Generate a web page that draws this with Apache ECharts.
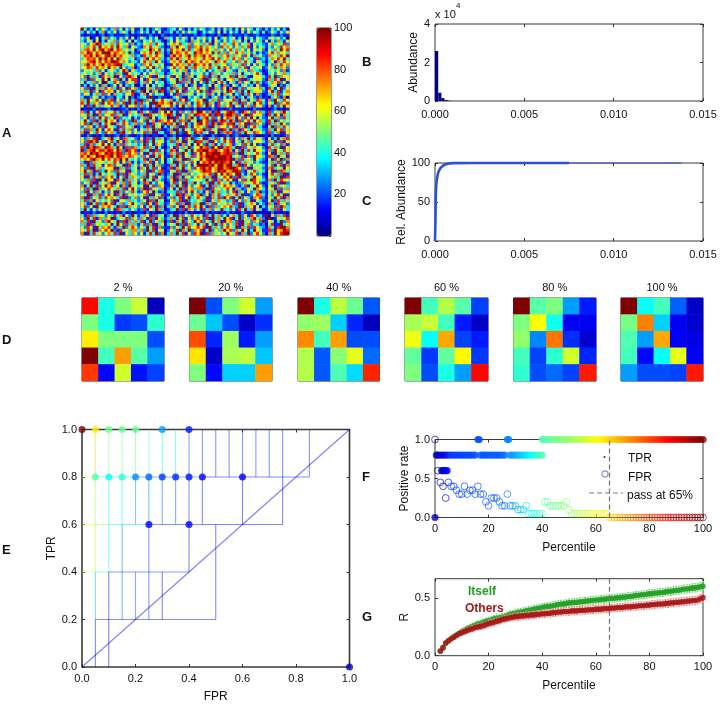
<!DOCTYPE html>
<html><head><meta charset="utf-8">
<style>html,body{margin:0;padding:0;background:#fff}#main{width:720px;height:705px;filter:blur(0.6px)}</style>
<script src="https://cdn.jsdelivr.net/npm/echarts@6/dist/echarts.min.js"></script>
</head><body><div id="main"></div>
<script>
// ---- Panel A: similarity matrix, read by eye at reduced resolution (one digit per cell)
const heatLevels=[8,16,26,36,45,55,65,75,85,97];
const heatRows=[
"2413052631 3725142611 4130253102 3415203142 5312403152 3041625314 2031425130",
"3152403714 2513630412 5240316122 4031526340 1425316041 5230416253 1402531426",
"1021101201 2010120101 1012010210 1102011020 1201102101 2011021012 0110210201",
"4263150472 5314261502 6314250173 4152630415 3624150362 4513062415 3214635240",
"3154260315 4726315042 1536243102 5163420736 2514063152 4736140526 3150427316",
"5426758364 7385462713 2647385403 6758347265 3748162574 3862547163 4215736482",
"6375849675 8496371542 1758463201 7495638276 8475362847 5263748152 5314263857",
"4786958768 9587463602 3649758413 8576948367 9586473625 8473625164 6205374968",
"7698586979 6875749311 6758497302 9687586497 8675948372 6485736241 3126847563",
"5879697588 7968654723 1847586401 7968579486 7958463758 3746285173 5217463859",
"3687859796 8597463512 4796857313 8597468576 4867958367 4857263418 2314758694",
"6578968587 9486752431 5847396202 6758496875 8576497584 3627485316 4203617485",
"4796857968 7859346613 2758463501 9586748397 6859473652 7463825162 6315274857",
"5687486759 6748523702 6485937413 5847693785 4768359486 2537481635 5126384762",
"2546372514 6325471632 3142635210 4526371425 3614253716 4215362743 2014536271",
"4635247163 5274186353 1526473302 3645172634 5241736254 3726145368 4103526473",
"6293741857 4916283750 7358194624 8163927405 6829371546 8294731065 6318492756",
"3718264950 5729416381 5186372913 6493827154 7192648305 6738192456 5207384916",
"5143726094 3862175411 4726153402 4618273951 6293715840 5317264938 3124758261",
"1304251730 2516032401 3160425301 2743150261 1425063172 0631452306 2013650214",
"6281947385 7392618572 6947382913 9274816358 4629173850 7193826465 7308415926",
"4739261857 6158374923 8261749802 7495183626 9381746259 8527149366 5216938147",
"2651473826 1734265801 4716253401 5182736415 3628415073 6142938517 2013748256",
"3012641312 2043150202 3416102110 1362104253 1520362141 3712403521 2010362170",
"7396485927 8162749381 9274836854 7138692457 6914738265 5829471638 7417296385",
"8493762958 6274819392 8361947867 9583726148 6297418536 9471826395 8316492758",
"6182947365 8471395672 7249381656 8316947258 7492618375 8163947285 6207138496",
"0110201012 1001120102 0110102010 2110011020 1010210101 2010110021 1000120101",
"7294168375 5839217461 8362917586 9417263859 9627189468 9831976285 7318264795",
"6483917256 8274916353 7198463675 8391627498 7869298179 9782691856 6208396174",
"3617249583 6182435031 4729513640 5183627941 3794825168 7396284951 4215937284",
"5942817396 7613842983 6294718768 5138729460 9682917983 9718268496 7318492635",
"6829371485 9174862372 7391846297 8472693158 9682971868 8937691827 5208374962",
"2476138295 5318264701 3182946031 4726183957 6381947562 5817392684 3104927385",
"4827396158 6193847251 6374928102 7193846285 7928461983 9271863946 4217395826",
"7196384285 7318946263 5827193411 7492186397 8361949278 7128396487 6318247196",
"1021010201 0120121001 2010110020 1201001210 2100210012 0121001210 0010201012",
"5274891367 9361874521 6182937402 7395184623 6917382594 8162749385 5206139478",
"6289794815 8396174272 7183946513 8274916358 8371962485 8163947256 6317492816",
"3817246959 4172836342 4925176203 4381726059 6293714835 7136284951 2014836271",
"8297987498 7396182873 5827394102 6183749256 9782969178 7391826475 5208473916",
"9278968879 8697298681 7349182613 8716394958 8997897689 7162938496 6317296485",
"7869897698 9798278572 6193847402 7482963185 9698999789 8271936458 4206194738",
"8697698978 9698768763 7261948511 8397164826 8799989998 9463817296 6318729461",
"6758976968 5879694352 4817392603 5274918365 9689899998 9172846395 3205184927",
"3192746536 4851627141 3748162503 4917263850 6879798987 9518374624 2104738261",
"7392846168 7264918362 6183947211 7394826159 9998968979 9379185264 5316294817",
"5281947365 6917382451 7493826102 8174936285 8979679878 9986271946 4217836495",
"6947182395 7284619362 6391847811 6482917365 7988579896 7998216483 6306192874",
"4827139536 4392817542 3716429202 4918372635 5768295968 7599314862 3105847291",
"6193847275 8416293763 7294816313 7183946257 6837194586 9281746396 5206473918",
"5372819496 6184927362 5936174202 6917283465 5394817268 5716284986 4317294865",
"2648193647 1963728451 3871426501 4826193715 2471938635 1382746586 2014638192",
"7149382696 8361729463 6194827511 7394816256 8149273686 7629381459 6205817463",
"6283917468 5473816952 7918463702 6149285737 7291846368 5173926497 5316492837",
"3816274142 5917263841 2684931203 4382716952 3162947342 5817436237 1204739165",
"5491738268 5183926463 5729164811 6398174257 9261748357 4683917268 7315268491",
"7192648385 7638192472 6193748203 7248169358 5391748296 8149263576 8206394817",
"4827163536 2915637342 3618294501 5738192436 4291637542 3816274935 3115928374",
"6319482796 8147236953 7296184312 6482719374 9173826457 4829136758 4207318462",
"5826194768 5392817462 6148392703 7261948386 9418273675 8329174695 6316482973",
"3941526142 6187342531 2816497301 3492817625 1837264934 2618493716 3014728163",
"0110201020 1010201001 1020100120 1001020100 1020110102 0100210100 0010201010",
"4182736526 3847162941 3761824502 4917263853 6183947241 5739261862 3194627381",
"6294817375 9136482752 7418296313 7394816268 5281937496 8149263794 7209316458",
"7381946279 6492817373 8149263702 8174926396 8263947196 7381946276 2916483927",
"3718264536 1496283731 4827193603 5492817361 4716293852 6381947243 1204816935",
"5286194768 4173926862 6394817211 7263948568 5819374268 5491738286 3207418697",
"6483917586 9218463773 7294816502 6381749275 8149263795 8274961396 4118296798",
"7193846257 4829163752 6148392703 7394816286 9182746359 6481739268 5207396899"];
const heatDiagonal="9110099999 9999999880 0019999999 9999999999 9999999999 9911111111 0000001999";
const colorbarTicks=[20,40,60,80,100];

// ---- Panel B
const abundanceBins=[0.00009,0.00027,0.00044,0.00062,0.0008];
const abundanceCounts=[26000,4300,1500,500,150];
// ---- Panel C
const relX=[0,0.00002,0.00004,0.00005,0.00007,0.0001,0.00015,0.0002,0.0003,0.0004,0.0005,0.0007,0.001,0.002,0.0075];
const relY=[0,20,50,62,72,78,85,89,93.5,96,97.5,99,99.8,100,100];
const relTailX=[0.0075,0.0138];
const relTailY=[100,100];

// ---- Panel D
const stageLabels=["2 %","20 %","40 %","60 %","80 %","100 %"];
const stage2=[[87,40,50,57,6],[50,40,18,20,42],[64,50,50,50,20],[100,44,72,46,28],[82,13,58,14,19]];
const stage20=[[100,20,50,58,28],[48,32,20,7,17],[80,16,53,15,28],[65,7,54,56,32],[50,13,33,33,72]];
const stage40=[[100,40,56,48,21],[52,53,33,16,6],[74,44,72,20,20],[55,21,51,60,23],[55,21,45,34,84]];
const stage60=[[100,44,55,46,19],[54,57,44,15,7],[61,38,71,19,15],[47,18,47,63,18],[50,20,40,28,87]];
const stage80=[[100,46,50,28,15],[50,62,39,11,11],[52,26,76,17,8],[44,19,42,58,16],[42,20,23,19,85]];
const stage100=[[100,38,44,22,7],[49,75,33,11,8],[45,28,71,12,10],[44,13,38,60,12],[28,20,20,19,85]];

// ---- Panel E: [x1, y1, colour value, x2, y2]
const rocUpper=[[.05,.8,66,.05,1],[.1,.8,50,.1,1],[.15,.8,49,.15,1],[.2,.8,48,.2,1],[.25,.8,45,.25,1],[.3,.8,40,.3,1],[.35,.8,38,.35,1],[.4,.8,20,.4,1],[.45,.8,18,.45,1],[.5,.8,18,.5,1],[.55,.8,18,.55,1],[.6,.8,18,.6,1],[.65,.8,18,.65,1],[.7,.8,18,.7,1],[.75,.8,18,.75,1],[.85,.8,18,.85,1],
[0,.8,60,.05,.8],[.05,.8,45,.1,.8],[.1,.8,40,.15,.8],[.15,.8,38,.2,.8],[.2,.8,25,.45,.8],[.45,.8,15,.85,.8]];
const rocMiddle=[[.05,.6,55,.05,.8],[.1,.6,40,.1,.8],[.15,.6,38,.15,.8],[.2,.6,28,.2,.8],[.25,.6,24,.25,.8],[.3,.6,22,.3,.8],[.35,.6,22,.35,.8],[.4,.6,18,.4,.8],[.45,.6,16,.45,.8],[.6,.6,14,.6,.8],[.75,.6,14,.75,.8],
[0,.6,62,.05,.6],[.05,.6,55,.1,.6],[.1,.6,40,.15,.6],[.15,.6,33,.25,.6],[.25,.6,18,.45,.6],[.45,.6,14,.75,.6],
[.05,.4,58,.05,.6],[.1,.4,40,.1,.6],[.15,.4,25,.15,.6],[.25,.4,18,.25,.6],[.4,.4,14,.4,.6],[.5,.2,14,.5,.6]];
const rocLower=[[0,.4,60,.05,.4],[.05,.4,45,.1,.4],[.1,.4,18,.4,.4],
[.05,.2,30,.05,.4],[.1,.2,14,.1,.4],[.15,.2,22,.15,.4],[.2,.2,22,.2,.4],[.25,.2,18,.25,.4],[.3,.2,14,.3,.4],
[.05,.2,16,.5,.2],[.05,0,14,.05,.2],[.1,0,10,.1,.2],[0,0,12,1,1]];
const rocPoints=[[0,1,100],[.05,1,64],[.1,1,48],[.15,1,48],[.2,1,48],[.3,1,28],[.4,1,16],
[.05,.8,45],[.1,.8,38],[.15,.8,42],[.2,.8,26],[.25,.8,22],[.3,.8,18],[.35,.8,16],[.4,.8,14],[.45,.8,13],[.6,.8,11],
[.25,.6,12],[.4,.6,12],[1,0,6]];

// ---- Panel F
const percentiles=[0,1,2,3,4,5,6,7,8,9,10,11,12,13,14,15,16,17,18,19,20,21,22,23,24,25,26,27,28,29,30,31,32,33,34,35,36,37,38,39,40,41,42,43,44,45,46,47,48,49,50,51,52,53,54,55,56,57,58,59,60,61,62,63,64,65,66,67,68,69,70,71,72,73,74,75,76,77,78,79,80,81,82,83,84,85,86,87,88,89,90,91,92,93,94,95,96,97,98,99,100];
const tprRate=[0,.8,.8,.8,.8,.8,.8,.8,.8,.8,.8,.8,.8,.8,.8,.8,1,.8,.8,.8,.8,.8,.8,.8,.8,.8,.8,1,.8,.8,.8,.8,.8,.8,.8,.8,.8,.8,.8,.8,.8,1,1,1,1,1,1,1,1,1,1,1,1,1,1,1,1,1,1,1,1,1,1,1,1,1,1,1,1,1,1,1,1,1,1,1,1,1,1,1,1,1,1,1,1,1,1,1,1,1,1,1,1,1,1,1,1,1,1,1,1];
const tprExtraPct=[.5,2.5,3,3.5,4,4.5,40,16.5,27.5];
const tprExtraRate=[.8,.6,.6,.6,.6,.6,1,1,1];
const fprRate=[1,.6,.45,.4,.25,.45,.4,.4,.35,.3,.3,.4,.3,.35,.35,.3,.4,.3,.3,.2,.15,.25,.25,.25,.2,.15,.15,.3,.15,.15,.15,.1,.1,.1,.15,.05,.05,.05,.05,.05,.05,.2,.2,.15,.15,.15,.15,.15,.15,.2,.1,.05,.05,.05,.05,.05,.05,.05,.05,.05,.05,.05,.05,.05,.05,0,0,0,0,0,0,0,0,0,0,0,0,0,0,0,0,0,0,0,0,0,0,0,0,0,0,0,0,0,0,0,0,0,0,0,0];
const passPercentile=65;
// colour value seen at a percentile in panel F
const shadeAtPct=[0,3,6,25,30,35,40,50,65,100];
const shadeValue=[6,8,18,22,29,36,45,52,66,100];

// ---- Panel G (percentiles 2..100)
const rPercentiles=percentiles.slice(2);
const rItself=[.04,.07,.11,.13,.15,.165,.18,.195,.21,.22,.235,.245,.255,.265,.275,.28,.29,.3,.305,.31,.32,.325,.33,.335,.34,.35,.36,.365,.37,.375,.38,.385,.39,.395,.4,.405,.41,.415,.42,.425,.43,.43,.435,.44,.445,.45,.45,.455,.46,.46,.465,.465,.47,.47,.475,.475,.48,.48,.485,.485,.49,.49,.495,.495,.5,.5,.505,.505,.51,.51,.515,.515,.52,.525,.525,.53,.53,.535,.54,.54,.545,.545,.55,.55,.555,.56,.56,.565,.57,.57,.575,.58,.58,.585,.59,.59,.595,.6,.605];
const rOthers=[.04,.07,.11,.13,.145,.16,.175,.19,.2,.21,.22,.23,.235,.245,.25,.255,.26,.27,.28,.285,.29,.3,.305,.315,.32,.325,.33,.335,.34,.34,.345,.345,.35,.35,.355,.355,.36,.36,.365,.365,.37,.37,.375,.375,.38,.38,.385,.385,.385,.39,.39,.39,.395,.395,.395,.4,.4,.4,.405,.405,.405,.41,.41,.41,.415,.415,.42,.42,.42,.425,.425,.425,.43,.43,.435,.435,.435,.44,.44,.445,.445,.45,.45,.45,.455,.455,.46,.46,.465,.465,.47,.47,.475,.475,.48,.48,.485,.495,.505];
const spreadByDecile=[.01,.028,.03,.032,.033,.034,.034,.034,.035,.036,.04];

// ---- layout
const FONT='"Liberation Sans",Arial,sans-serif', INK='#111';
const jet=['#00007f','#0000ff','#007fff','#00ffff','#7fff7f','#ffff00','#ff7f00','#ff0000','#7f0000'];
const grids=[], xAxes=[], yAxes=[], series=[], mapped=[];
function addGrid(l,t,r,b,bw){grids.push({left:l,top:t,width:r-l,height:b-t,show:true,borderColor:'#3a3a3a',borderWidth:bw||1,backgroundColor:'transparent'});return grids.length-1;}
function valueAxis(grid,cfg,dir,mirror){
  const c={type:'value',gridIndex:grid,min:cfg.min,max:cfg.max,interval:cfg.interval,scale:false,
    splitLine:{show:false},axisLine:{show:false,onZero:false},
    axisTick:{show:true,inside:true,length:3,lineStyle:{color:'#333',width:1}},
    position:dir==='x'?(mirror?'top':'bottom'):(mirror?'right':'left'),
    axisLabel:{show:!mirror,formatter:cfg.fmt,fontFamily:FONT,fontSize:11,color:INK,margin:cfg.margin||5,showMaxLabel:cfg.showMax!==false},
  };
  if(!mirror&&cfg.name){Object.assign(c,{name:cfg.name,nameLocation:'middle',nameGap:cfg.gap,nameTextStyle:{fontFamily:FONT,fontSize:12,color:INK}});}
  return c;
}
function addBoxAxes(grid,xc,yc){
  const xi=xAxes.length, yi=yAxes.length;
  xAxes.push(valueAxis(grid,xc,'x',false),valueAxis(grid,xc,'x',true));
  yAxes.push(valueAxis(grid,yc,'y',false),valueAxis(grid,yc,'y',true));
  return [xi,yi];
}
function addHeat(rect,matrix){
  const g=addGrid(...rect);
  const cats=matrix.map((_,i)=>i);
  const xi=xAxes.length, yi=yAxes.length;
  xAxes.push({type:'category',gridIndex:g,data:cats,show:false});
  yAxes.push({type:'category',gridIndex:g,data:cats,show:false,inverse:true});
  const d=[];matrix.forEach((row,r)=>row.forEach((v,c)=>d.push([c,r,v])));
  mapped.push(series.length);
  series.push({type:'heatmap',xAxisIndex:xi,yAxisIndex:yi,data:d,progressive:0,silent:true,z:1});
}
function shadeOf(p){
  for(let i=1;i<shadeAtPct.length;i++){ if(p<=shadeAtPct[i]){const t=(p-shadeAtPct[i-1])/(shadeAtPct[i]-shadeAtPct[i-1]);return shadeValue[i-1]+t*(shadeValue[i]-shadeValue[i-1]);} }
  return 100;
}
const cleanDiag=heatDiagonal.replace(/ /g,'');
const mainMatrix=heatRows.map((row,r)=>row.replace(/ /g,'').split('').map((ch,c)=>heatLevels[+(r===c?cleanDiag[c]:ch)]));
addHeat([81,28,289,235],mainMatrix);

// colour bar axis
const cbG=addGrid(317,28,331,236);
{ xAxes.push({type:'value',gridIndex:cbG,min:0,max:1,show:false});
  yAxes.push({type:'value',gridIndex:cbG,min:0,max:100,interval:20,position:'right',splitLine:{show:false},axisLine:{show:false,onZero:false},
    axisTick:{show:true,inside:true,length:2,lineStyle:{color:'#333'}},
    axisLabel:{fontFamily:FONT,fontSize:11,color:INK,margin:3,padding:[6,0,0,0],formatter:v=>colorbarTicks.includes(v)?String(v):''}});
}
// B
const toFix3=v=>v.toFixed(3), toFix1=v=>v.toFixed(1);
const xCfg015={min:0,max:.015,interval:.005,fmt:toFix3,margin:8};
{ const g=addGrid(435,24,703,101);
  const [x,y]=addBoxAxes(g,xCfg015,{min:0,max:40000,interval:20000,fmt:v=>String(v/10000),name:'Abundance',gap:14});
  series.push({type:'bar',xAxisIndex:x,yAxisIndex:y,barWidth:3.2,itemStyle:{color:'#00008f'},data:abundanceBins.map((b,i)=>[b,abundanceCounts[i]]),silent:true});
}
// C
{ const g=addGrid(435,163,703,241);
  const [x,y]=addBoxAxes(g,xCfg015,{min:0,max:100,interval:50,fmt:v=>String(v),name:'Rel. Abundance',gap:24});
  series.push({type:'line',xAxisIndex:x,yAxisIndex:y,showSymbol:false,clip:false,lineStyle:{color:'#2a50dc',width:2.6},data:relX.map((v,i)=>[v,relY[i]]),silent:true});
  series.push({type:'line',xAxisIndex:x,yAxisIndex:y,showSymbol:false,clip:false,lineStyle:{color:'#2a50dc',width:1},data:relTailX.map((v,i)=>[v,relTailY[i]]),silent:true});
}
// D
const stageMatrices=[stage2,stage20,stage40,stage60,stage80,stage100];
const stageRects=[[82,298,164,381],[189.5,298,272,381],[298,298,379.5,381],[405,298,488,381],[513.5,298,596,381],[621,298,703,381]];
stageMatrices.forEach((m,i)=>addHeat(stageRects[i],m));
// E
{ const g=addGrid(82,429.5,349.5,667,1.6);
  const tick={min:0,max:1,interval:.2,fmt:toFix1,margin:6};
  const [x,y]=addBoxAxes(g,{...tick,name:'FPR',gap:24},{...tick,margin:5,name:'TPR',gap:22});
  mapped.push(series.length);
  series.push({type:'custom',xAxisIndex:x,yAxisIndex:y,silent:true,clip:false,
    data:[...rocUpper,...rocMiddle,...rocLower],
    encode:{x:[0,3],y:[1,4]},
    renderItem:(p,api)=>{const a=api.coord([api.value(0),api.value(1)]),b=api.coord([api.value(3),api.value(4)]);
      return {type:'line',shape:{x1:a[0],y1:a[1],x2:b[0],y2:b[1]},style:{stroke:api.visual('color'),lineWidth:1.1,opacity:.5}};}});
  mapped.push(series.length);
  series.push({type:'scatter',xAxisIndex:x,yAxisIndex:y,symbolSize:7,clip:false,silent:true,data:rocPoints,z:5});
}
// F
{ const g=addGrid(435,439.5,703,517.5);
  const [x,y]=addBoxAxes(g,{min:0,max:100,interval:20,fmt:v=>String(v),name:'Percentile',gap:24,margin:6},{min:0,max:1,interval:.5,fmt:toFix1,name:'Positive rate',gap:22});
  mapped.push(series.length);
  series.push({type:'custom',xAxisIndex:x,yAxisIndex:y,silent:true,clip:false,
    data:percentiles.map((p,i)=>[p,fprRate[i],shadeOf(p)]),
    renderItem:(pr,api)=>{const a=api.coord([api.value(0),api.value(1)]);
      return {type:'circle',shape:{cx:a[0],cy:a[1],r:3.4},style:{stroke:api.visual('color'),fill:'none',lineWidth:.8,opacity:.85}};}});
  mapped.push(series.length);
  const tpr=percentiles.map((p,i)=>[p,tprRate[i],shadeOf(p)]).concat(tprExtraPct.map((p,i)=>[p,tprExtraRate[i],shadeOf(p)]));
  series.push({type:'scatter',xAxisIndex:x,yAxisIndex:y,symbolSize:7.2,clip:false,silent:true,data:tpr,z:4,
    markLine:{silent:true,symbol:'none',label:{show:false},lineStyle:{color:'#7a7a7a',type:[5,3],width:1.3},data:[{xAxis:passPercentile}]}});
}
// G
{ const g=addGrid(435,578.7,703,655.7);
  const [x,y]=addBoxAxes(g,{min:0,max:100,interval:20,fmt:v=>String(v),name:'Percentile',gap:24,margin:6},{min:0,max:.67,interval:.5,fmt:toFix1,showMax:false,name:'R',gap:22});
  const errSeries=(vals,color,z)=>({type:'custom',xAxisIndex:x,yAxisIndex:y,silent:true,z,clip:false,
    data:rPercentiles.map((p,i)=>{const s=spreadByDecile[Math.floor(p/10)];return [p,vals[i]-s,vals[i]+s];}),
    encode:{x:0,y:[1,2]},
    renderItem:(pr,api)=>{const a=api.coord([api.value(0),api.value(1)]),b=api.coord([api.value(0),api.value(2)]);
      const st={stroke:color,lineWidth:1};
      return {type:'group',children:[
        {type:'line',shape:{x1:a[0],y1:a[1],x2:b[0],y2:b[1]},style:st},
        {type:'line',shape:{x1:a[0]-1,y1:a[1],x2:a[0]+1,y2:a[1]},style:st},
        {type:'line',shape:{x1:b[0]-1,y1:b[1],x2:b[0]+1,y2:b[1]},style:st}]};}});
  const pts=(vals,color,z)=>({type:'scatter',xAxisIndex:x,yAxisIndex:y,symbolSize:5.6,silent:true,z,clip:false,itemStyle:{color},data:rPercentiles.map((p,i)=>[p,vals[i]])});
  series.push(errSeries(rItself,'#80d880',2),pts(rItself,'#1e9e1e',3),errSeries(rOthers,'#f09090',4),pts(rOthers,'#a81212',5));
  series.push({type:'line',xAxisIndex:x,yAxisIndex:y,showSymbol:false,silent:true,data:[],
    markLine:{silent:true,symbol:'none',label:{show:false},lineStyle:{color:'#7a7a7a',type:[5,3],width:1.3},data:[{xAxis:passPercentile}]},z:6});
}
// free text
const txt=(s,x,y,o={})=>({type:'text',x,y,silent:true,z:50,style:Object.assign({text:s,fontFamily:FONT,fontSize:12,fill:INK,verticalAlign:'middle'},o)});
const panelLetters=[['A',2,133],['B',362,62],['C',362,201],['D',2,340],['E',2,550],['F',362,477],['G',362,617]];
const graphic=[
  ...panelLetters.map(p=>txt(p[0],p[1],p[2],{fontSize:13,fontWeight:'bold'})),
  txt('x 10',435,15,{fontSize:11}),txt('4',456,6,{fontSize:8}),
  ...stageLabels.map((s,i)=>txt(s,(stageRects[i][0]+stageRects[i][2])/2,288,{align:'center',fontSize:11})),
  txt('TPR',628,459),txt('FPR',628,478),txt('pass at 65%',627,496),
  {type:'circle',silent:true,z:50,shape:{cx:604.5,cy:457,r:1},style:{fill:'#1a2ea0'}},
  {type:'circle',silent:true,z:50,shape:{cx:605,cy:474,r:3.2},style:{stroke:'#3a50d0',fill:'none',lineWidth:.8}},
  {type:'line',silent:true,z:50,shape:{x1:589,y1:493,x2:623,y2:493},style:{stroke:'#7a7a7a',lineWidth:1.2,lineDash:[5,3]}},
  txt('Itself',468,592,{fontSize:12,fontWeight:'bold',fill:'#22a022'}),
  txt('Others',465,609,{fontSize:12,fontWeight:'bold',fill:'#a81818'})
];
const chart=echarts.init(document.getElementById('main'),null,{renderer:'canvas'});
chart.setOption({animation:false,backgroundColor:'#fff',grid:grids,xAxis:xAxes,yAxis:yAxes,series,graphic:{elements:graphic},
  visualMap:{type:'continuous',min:0,max:100,seriesIndex:mapped,dimension:2,left:317,top:28,itemWidth:14,itemHeight:208,text:['',''],showLabel:false,calculable:false,realtime:false,inRange:{color:jet},hoverLink:false,padding:0,textStyle:{fontSize:0}}
});
</script></body></html>
